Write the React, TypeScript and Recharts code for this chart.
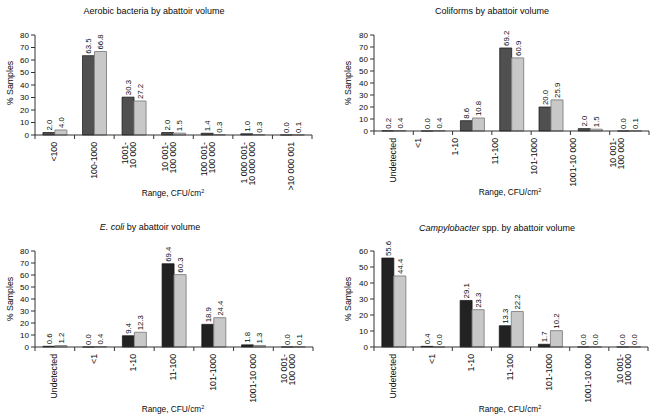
import React from 'react';
import { BarChart, Bar, XAxis, YAxis, LabelList } from 'recharts';

// ---------- data ----------
const aerobicCategories = ['<100', '100-1000', '1001-\n10 000', '10 001-\n100 000', '100 001-\n100 000', '1 000 001-\n10 000 000', '>10 000 001'];
const aerobicSeriesA = [2.0, 63.5, 30.3, 2.0, 1.4, 1.0, 0.0];
const aerobicSeriesB = [4.0, 66.8, 27.2, 1.5, 0.3, 0.3, 0.1];

const detectCategories = ['Undetected', '<1', '1-10', '11-100', '101-1000', '1001-10 000', '10 001-\n100 000'];

const coliformSeriesA = [0.2, 0.0, 8.6, 69.2, 20.0, 2.0, 0.0];
const coliformSeriesB = [0.4, 0.4, 10.8, 60.9, 25.9, 1.5, 0.1];

const ecoliSeriesA = [0.6, 0.0, 9.4, 69.4, 18.9, 1.8, 0.0];
const ecoliSeriesB = [1.2, 0.4, 12.3, 60.3, 24.4, 1.3, 0.1];

const campySeriesA = [55.6, 0.4, 29.1, 13.3, 1.7, 0.0, 0.0];
const campySeriesB = [44.4, 0.0, 23.3, 22.2, 10.2, 0.0, 0.0];

const ticks80 = [0, 10, 20, 30, 40, 50, 60, 70, 80];
const ticks60 = [0, 10, 20, 30, 40, 50, 60];

const FONT = '"Liberation Sans", Arial, sans-serif';
const TEXT = '#0a0a0a';

type PanelProps = {
  left: number;
  top: number;
  title: React.ReactNode;
  titleX: number;
  titleY: number;
  categories: string[];
  seriesA: number[];
  seriesB: number[];
  yTicks: number[];
  plotLeft: number;
  plotRight: number;
  plotTop: number;
  plotBottom: number;
  darkFill: string;
  xTitleX: number;
  xTitleY: number;
  yTitleX: number;
  yTitleY: number;
  tickShift?: number[];
};

const W = 327;
const H = 209;

const zeroMin = (v: any) => (v === 0 ? 0.001 : 0);

function Panel(p: PanelProps) {
  const data = p.categories.map((c, i) => ({ cat: c, a: p.seriesA[i], b: p.seriesB[i] }));
  const n = p.categories.length;
  const band = (p.plotRight - p.plotLeft) / n;

  const renderTick = (props: any) => {
    const { x, payload, index } = props;
    const axisY = p.plotBottom;
    const lines = String(payload.value).split('\n');
    const shift = p.tickShift ? p.tickShift[index] || 0 : 0;
    return (
      <g>
        <line x1={x - band / 2} x2={x - band / 2} y1={axisY} y2={axisY + 4} stroke="#333" strokeWidth={1} />
        {index === n - 1 ? (
          <line x1={x + band / 2} x2={x + band / 2} y1={axisY} y2={axisY + 4} stroke="#333" strokeWidth={1} />
        ) : null}
        {lines.map((ln, i) => (
          <text
            key={i}
            transform={`translate(${x + 2.2 + shift - (lines.length - 1 - i) * 8},${axisY + 7}) rotate(-90)`}
            textAnchor="end"
            fontSize={8.7}
            fontFamily={FONT}
            fill={TEXT}
          >
            {ln}
          </text>
        ))}
      </g>
    );
  };

  const renderValue = (props: any) => {
    const { x, y, width, value } = props;
    return (
      <text
        transform={`translate(${x + width / 2 + 2.8},${y - 2}) rotate(-90)`}
        textAnchor="start"
        fontSize={7.8}
        fontFamily={FONT}
        fill={TEXT}
      >
        {Number(value).toFixed(1)}
      </text>
    );
  };

  const yMax = p.yTicks[p.yTicks.length - 1];

  return (
    <div style={{ position: 'absolute', left: p.left, top: p.top, width: W, height: H }}>
      <BarChart
        width={W}
        height={H}
        data={data}
        margin={{ top: p.plotTop, right: W - p.plotRight, left: 0, bottom: 0 }}
        barCategoryGap="20%"
        barGap={0}
      >
        <XAxis
          dataKey="cat"
          interval={0}
          tickLine={false}
          tickSize={0}
          tickMargin={0}
          axisLine={{ stroke: '#333', strokeWidth: 1 }}
          tick={renderTick}
          height={H - p.plotBottom}
        />
        <YAxis
          type="number"
          domain={[0, yMax]}
          ticks={p.yTicks}
          interval={0}
          width={p.plotLeft}
          tickSize={4}
          tickMargin={2}
          axisLine={{ stroke: '#333', strokeWidth: 1 }}
          tickLine={{ stroke: '#333', strokeWidth: 1 }}
          tick={{ fontSize: 8, fontFamily: FONT, fill: TEXT }}
          allowDecimals={false}
        />
        <Bar dataKey="a" fill={p.darkFill} stroke="#111" strokeWidth={0.7} minPointSize={zeroMin} isAnimationActive={false}>
          <LabelList dataKey="a" content={renderValue} />
        </Bar>
        <Bar dataKey="b" fill="#c8c8c8" stroke="#8a8a8a" strokeWidth={1} minPointSize={zeroMin} isAnimationActive={false}>
          <LabelList dataKey="b" content={renderValue} />
        </Bar>
      </BarChart>
      <div
        style={{
          position: 'absolute',
          left: p.titleX,
          top: p.titleY,
          transform: 'translate(-50%,-50%)',
          whiteSpace: 'nowrap',
          fontSize: 9,
          fontFamily: FONT,
          color: TEXT,
          lineHeight: 1,
        }}
      >
        {p.title}
      </div>
      <div
        style={{
          position: 'absolute',
          left: p.xTitleX,
          top: p.xTitleY,
          transform: 'translate(-50%,-50%)',
          whiteSpace: 'nowrap',
          fontSize: 8.3,
          fontFamily: FONT,
          color: TEXT,
          lineHeight: 1,
        }}
      >
        Range, CFU/cm<sup style={{ fontSize: 5.5, verticalAlign: 'top', lineHeight: 1 }}>2</sup>
      </div>
      <div
        style={{
          position: 'absolute',
          left: p.yTitleX,
          top: p.yTitleY,
          transform: 'translate(-50%,-50%) rotate(-90deg)',
          whiteSpace: 'nowrap',
          fontSize: 8.8,
          fontFamily: FONT,
          color: TEXT,
          lineHeight: 1,
        }}
      >
        % Samples
      </div>
    </div>
  );
}

export default function App() {
  return (
    <div style={{ position: 'absolute', left: 0, top: 0, width: 654, height: 418, background: '#fff', overflow: 'hidden' }}>
      <Panel
        left={0}
        top={0}
        title="Aerobic bacteria by abattoir volume"
        titleX={154}
        titleY={10.5}
        categories={aerobicCategories}
        seriesA={aerobicSeriesA}
        seriesB={aerobicSeriesB}
        yTicks={ticks80}
        plotLeft={35}
        plotRight={312}
        plotTop={35}
        plotBottom={135}
        darkFill="#505050"
        xTitleX={173}
        xTitleY={192.5}
        yTitleX={10}
        yTitleY={83}
      />
      <Panel
        left={327}
        top={0}
        title="Coliforms by abattoir volume"
        titleX={165}
        titleY={10.5}
        categories={detectCategories}
        seriesA={coliformSeriesA}
        seriesB={coliformSeriesB}
        yTicks={ticks80}
        plotLeft={47}
        plotRight={322}
        plotTop={35}
        plotBottom={131}
        darkFill="#505050"
        xTitleX={183}
        xTitleY={191.5}
        yTitleX={21}
        yTitleY={83}
        tickShift={[0, -14, -16, -16, -16, -16, -8]}
      />
      <Panel
        left={0}
        top={209}
        title={<span><i>E. coli</i> by abattoir volume</span>}
        titleX={150}
        titleY={17.5}
        categories={detectCategories}
        seriesA={ecoliSeriesA}
        seriesB={ecoliSeriesB}
        yTicks={ticks80}
        plotLeft={35}
        plotRight={313}
        plotTop={42}
        plotBottom={138}
        darkFill="#222222"
        xTitleX={173}
        xTitleY={200}
        yTitleX={10}
        yTitleY={90}
      />
      <Panel
        left={327}
        top={209}
        title={<span><i>Campylobacter</i> spp. by abattoir volume</span>}
        titleX={170}
        titleY={19}
        categories={detectCategories}
        seriesA={campySeriesA}
        seriesB={campySeriesB}
        yTicks={ticks60}
        plotLeft={47}
        plotRight={321}
        plotTop={42}
        plotBottom={138}
        darkFill="#222222"
        xTitleX={183}
        xTitleY={199.5}
        yTitleX={21}
        yTitleY={90}
      />
    </div>
  );
}
